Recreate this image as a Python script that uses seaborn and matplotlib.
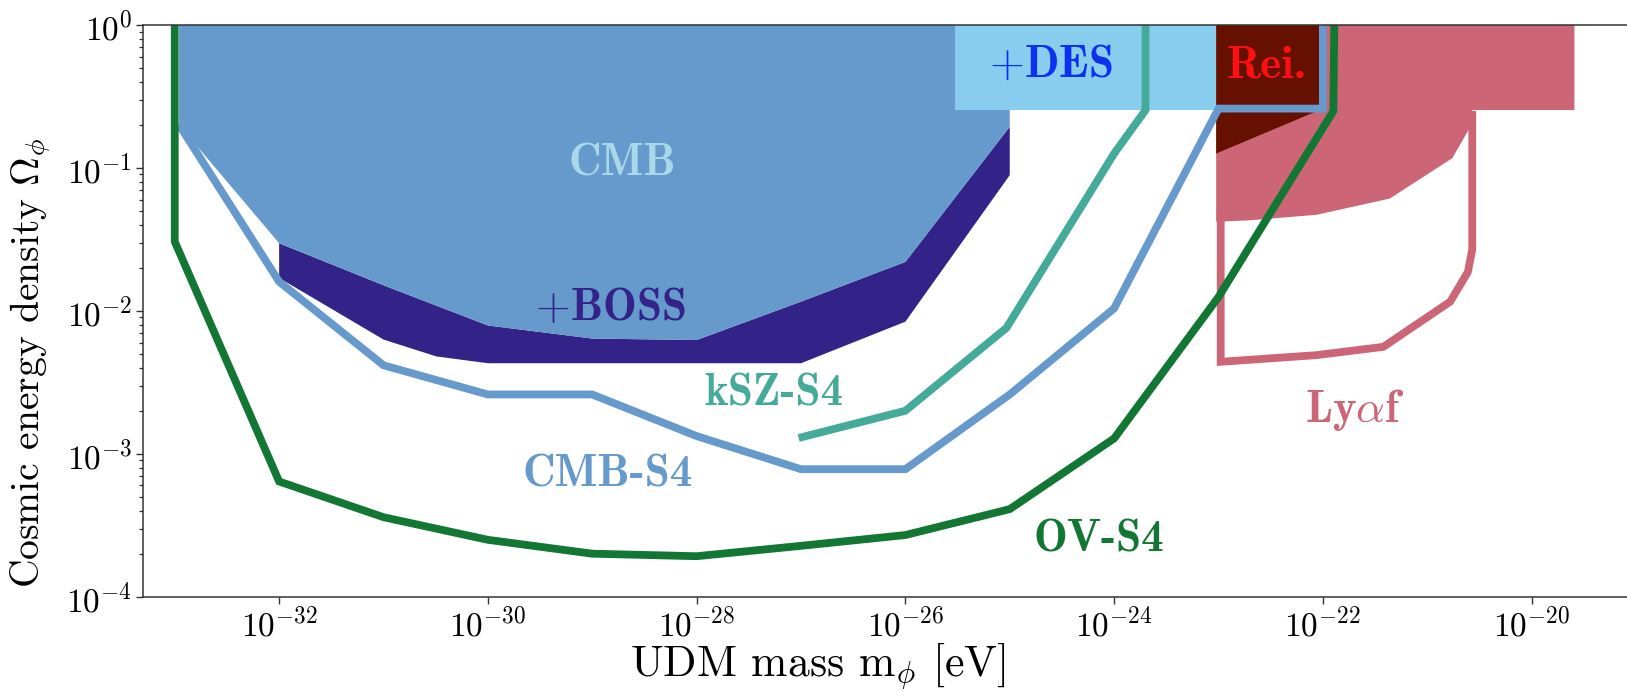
import numpy as np
import matplotlib
matplotlib.use("Agg")
import matplotlib.pyplot as plt
from matplotlib.ticker import NullLocator, LogLocator
import seaborn as sns

# ---------------- data ----------------
# CMB excluded region (filled)
cmb_x = [1.1e-33, 1.1e-33, 1e-32, 1e-31, 1e-30, 1e-29, 1e-28, 1e-27, 1e-26, 1e-25, 1e-25]
cmb_y = [1.0, 0.2, 0.0297, 0.0151, 7.9e-3, 6.4e-3, 6.25e-3, 0.0116, 0.022, 0.194, 1.0]

# +BOSS band (filled)
boss_x = [1e-32, 1e-31, 1e-30, 1e-29, 1e-28, 1e-27, 1e-26, 1e-25,
          1e-25, 1e-26, 1e-27, 1e-30, 3.2e-31, 1e-31, 1e-32]
boss_y = [0.0297, 0.0151, 7.9e-3, 6.4e-3, 6.25e-3, 0.0116, 0.022, 0.194,
          0.089, 8.4e-3, 4.3e-3, 4.3e-3, 4.8e-3, 6.3e-3, 0.017]

# +DES box
des_x = [3.0e-26, 9.5e-24, 9.5e-24, 3.0e-26]
des_y = [0.254, 0.254, 1.0, 1.0]

# Reionization region
rei_x = [9.5e-24, 1e-22, 1e-22, 9.5e-24]
rei_y = [1.0, 1.0, 0.26, 0.126]

# Lyman-alpha forest, current (filled)
lya_x = [9.5e-24, 2.57e-20, 2.57e-20, 2.7e-21, 2.7e-21, 1.74e-21, 4.37e-22, 8.7e-23, 2e-23, 9.5e-24]
lya_y = [1.0, 1.0, 0.254, 0.254, 0.205, 0.117, 0.061, 0.047, 0.043, 0.042]

# Lyman-alpha forest, forecast (outline)
lyaf_x = [1.05e-23, 1.05e-23, 8.7e-23, 3.8e-22, 1.66e-21, 2.45e-21, 2.7e-21, 2.7e-21]
lyaf_y = [0.05, 4.4e-3, 4.9e-3, 5.6e-3, 0.0116, 0.0187, 0.027, 0.25]

# OV-S4 forecast
ov_x = [1e-33, 1e-33, 1e-32, 1e-31, 1e-30, 1e-29, 1e-28, 1e-27, 1e-26, 1e-25, 1e-24, 1e-23, 1.26e-22, 1.29e-22]
ov_y = [1.2, 0.0305, 6.4e-4, 3.6e-4, 2.5e-4, 2.0e-4, 1.92e-4, 2.27e-4, 2.7e-4, 4.1e-4, 1.28e-3, 0.0125, 0.25, 1.2]

# CMB-S4 forecast
s4_x = [1.1e-33, 1e-32, 1e-31, 1e-30, 1e-29, 1e-28, 1e-27, 1e-26, 1e-25, 1e-24, 1e-23, 1e-22, 1e-22]
s4_y = [0.2, 0.016, 4.16e-3, 2.6e-3, 2.6e-3, 1.33e-3, 7.8e-4, 7.8e-4, 2.6e-3, 0.0104, 0.26, 0.26, 1.2]

# kSZ-S4 forecast
ksz_x = [9.5e-28, 1e-26, 9.3e-26, 1e-24, 2e-24, 2e-24]
ksz_y = [1.29e-3, 2.0e-3, 7.6e-3, 0.126, 0.254, 1.2]

x_ticks = [1e-32, 1e-30, 1e-28, 1e-26, 1e-24, 1e-22, 1e-20]

labels = ["CMB", "$+$BOSS", "$+$DES", "Rei.", "Ly$\\alpha$f", "kSZ-S4", "CMB-S4", "OV-S4"]
label_x = [1.95e-29, 1.48e-29, 2.45e-25, 2.9e-23, 2.05e-22, 5.5e-28, 1.41e-29, 7.1e-25]
label_y = [0.106, 0.0104, 0.525, 0.519, 2.02e-3, 2.62e-3, 7.1e-4, 2.51e-4]

# ---------------- styling ----------------
c_cmb = "#6699CC"
c_boss = "#332288"
c_des = "#88CCEE"
c_rei = "#661100"
c_lya = "#CC6677"
c_ov = "#117733"
c_ksz = "#44AA99"

label_colors = ["#A8D8EA", c_boss, "#1030F0", "#FF1010", c_lya, c_ksz, c_cmb, c_ov]

sns.set_style("ticks")
plt.rcParams['font.family'] = ['cmr10']
plt.rcParams['mathtext.fontset'] = 'cm'
plt.rcParams['axes.formatter.use_mathtext'] = True

fig = plt.figure(figsize=(16.27, 6.92), dpi=100)
ax = fig.add_axes([0.0881, 0.1377, 0.9119, 0.8262])
ax.set_xscale("log")
ax.set_yscale("log")
ax.set_xlim(5.0e-34, 8.2e-20)
ax.set_ylim(1e-4, 1.0)

# fills
ax.fill(lya_x, lya_y, color=c_lya, lw=0, zorder=1)
ax.fill(rei_x, rei_y, color=c_rei, lw=0, zorder=2)
ax.fill(boss_x, boss_y, color=c_boss, lw=0, zorder=2)
ax.fill(cmb_x, cmb_y, color=c_cmb, lw=0, zorder=3)
ax.fill(des_x, des_y, color=c_des, lw=0, zorder=4)

lw = 5.6
for xs, ys, col, z in [(lyaf_x, lyaf_y, c_lya, 5), (ksz_x, ksz_y, c_ksz, 6),
                       (s4_x, s4_y, c_cmb, 7), (ov_x, ov_y, c_ov, 8)]:
    sns.lineplot(x=xs, y=ys, sort=False, estimator=None, ax=ax, color=col,
                 linewidth=lw, zorder=z, legend=False)
for l in ax.lines:
    l.set_solid_joinstyle("miter")
    l.set_solid_capstyle("butt")

for t, x, y, c in zip(labels, label_x, label_y, label_colors):
    ax.text(x, y, t, color=c, fontsize=32.5, family="cmb10", ha="center", va="center", zorder=10)

ax.set_xticks(x_ticks)
ax.xaxis.set_minor_locator(NullLocator())
ax.yaxis.set_major_locator(LogLocator(base=10, numticks=10))
ax.yaxis.set_minor_locator(LogLocator(base=10, subs=np.arange(2, 10), numticks=10))
ax.tick_params(axis="both", which="major", labelsize=24, length=5, width=1.0,
               color="#333333", labelcolor="black")
ax.tick_params(axis="y", which="minor", length=3, width=0.9, color="#333333")
ax.tick_params(axis="x", pad=2)
ax.tick_params(axis="y", pad=3)

ax.spines["right"].set_visible(False)
for s in ["left", "bottom", "top"]:
    ax.spines[s].set_color("#333333")
    ax.spines[s].set_linewidth(1.1)
    ax.spines[s].set_zorder(12)

ax.set_xlabel("UDM mass m$_\\phi$ [eV]", fontsize=31.5, color="black")
ax.set_ylabel("Cosmic energy density $\\Omega_\\phi$", fontsize=28.5, color="black")
ax.xaxis.set_label_coords(0.4547, -0.076)
ax.yaxis.set_label_coords(-0.061, 0.41)

fig.savefig("out.png", dpi=100)
